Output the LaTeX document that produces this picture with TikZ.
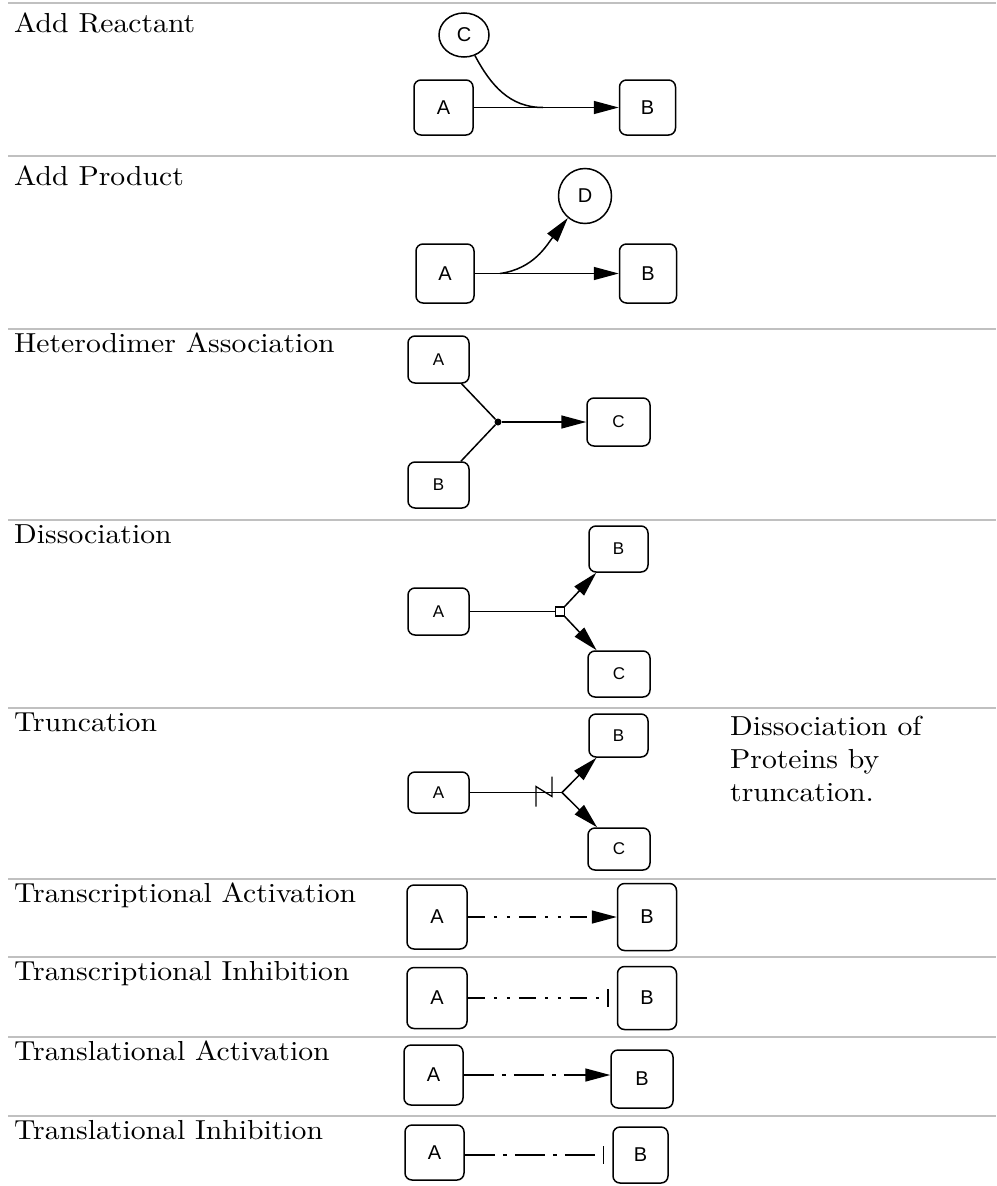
\documentclass[tikz,border=0pt]{standalone}
\usepackage{fontspec}
\usepackage{tikz}
\usetikzlibrary{arrows.meta, positioning, shapes.geometric}
\setmainfont{lmroman10-regular.otf}[FakeStretch=1.08]
\newfontfamily\boxfont{Liberation Sans}
\definecolor{rulegray}{RGB}{192,192,192}

\begin{document}
\begin{tikzpicture}[x=1pt, y=-1pt,
        molbox/.style={draw, rounded corners=7pt, line width=1.5pt, inner sep=0pt,
                       minimum width=59pt, minimum height=55pt,
                       font=\boxfont\fontsize{20}{20}\selectfont},
        smallbox/.style={molbox, font=\boxfont\fontsize{17}{17}\selectfont},
        species/.style={draw, ellipse, line width=1.5pt, inner sep=0pt,
                        minimum width=50pt, minimum height=44pt,
                        font=\boxfont\fontsize{20}{20}\selectfont},
        rowlabel/.style={anchor=base west, inner sep=0pt,
                         font=\fontsize{27.5}{33}\selectfont},
        rule/.style={draw=rulegray, line width=2pt},
        link/.style={line width=1.5pt},
        arrow/.style={link, -{Triangle[length=25pt, width=13pt]}},
        inhibit/.style={link, -{Bar[width=18pt]}, shorten >=8pt},
        transcr/.style={dash pattern=on 17pt off 9pt on 3pt off 10pt on 3pt off 9pt},
        transl/.style={dash pattern=on 30pt off 8pt on 4pt off 8pt}
      ]
        \useasboundingbox (0,0) rectangle (996,1186);

        \foreach \y in {3,156,329,520,708,879,957,1037,1116}
          \draw[rule] (8,\y) -- (996,\y);

        \foreach \y/\t [count=\i] in {32/Add Reactant, 185/Add Product,
            352/Heterodimer Association, 543/Dissociation, 731/Truncation,
            902/Transcriptional Activation, 980/Transcriptional Inhibition,
            1060/Translational Activation, 1139/Translational Inhibition}
          \node[rowlabel] (lab\i) at (14,\y) {\t};

        % add reactant
        \node[molbox] (reA) at (443.5,107.5) {A};
        \node[molbox, minimum width=56pt, right=145pt of reA] (reB) {B};
        \node[species] (reC) at (464,35) {C};
        \coordinate (reJ) at (543,107.5);
        \draw[arrow] (reA) -- (reB);
        \draw[link] (reC) to[out=-62, in=180] (reJ);

        % add product
        \node[molbox, minimum width=58pt, minimum height=59pt] (prA) at (445,273.5) {A};
        \node[molbox, minimum width=57pt, minimum height=59pt, right=144pt of prA] (prB) {B};
        \node[species, minimum width=53pt, minimum height=55pt] (prD) at (585,196) {D};
        \coordinate (prJ) at (500,273.5);
        \draw[arrow] (prA) -- (prB);
        \draw[arrow] (prJ) to[out=8, in=-128] (prD);

        % heterodimer association
        \node[smallbox, minimum width=61pt, minimum height=47pt] (hdA) at (438.5,359.5) {A};
        \node[smallbox, minimum width=61pt, minimum height=46pt] (hdB) at (438.5,485) {B};
        \node[smallbox, minimum width=63pt, minimum height=48pt] (hdC) at (618.5,422) {C};
        \node[circle, fill, inner sep=0pt, minimum size=7pt] (hdJ) at (498,422) {};
        \draw[link] (hdA) -- (hdJ);
        \draw[link] (hdB) -- (hdJ);
        \draw[arrow] (hdJ) -- (hdC);

        % dissociation
        \node[smallbox, minimum width=61pt, minimum height=47pt] (dsA) at (438.5,611.5) {A};
        \node[smallbox, minimum width=59pt, minimum height=46pt] (dsB) at (618.5,549) {B};
        \node[smallbox, minimum width=62pt, minimum height=46pt] (dsC) at (619,674) {C};
        \node[draw, fill=white, line width=1.2pt, inner sep=0pt, minimum size=9pt] (dsJ) at (560,611.5) {};
        \draw[link] (dsA) -- (dsJ);
        \draw[arrow] (dsJ) -- (dsB);
        \draw[arrow] (dsJ) -- (dsC);

        % truncation
        \node[smallbox, minimum width=61pt, minimum height=41pt] (trA) at (438.5,792.5) {A};
        \node[smallbox, minimum width=59pt, minimum height=43pt] (trB) at (618.5,735.5) {B};
        \node[smallbox, minimum width=62pt, minimum height=42pt] (trC) at (619,849) {C};
        \coordinate (trJ) at (562,792.5);
        \draw[link] (trA) -- (trJ);
        \draw[line width=1.3pt] (trJ) ++(-26,14) -- ++(0,-20) -- ++(16,10) -- ++(0,-20);
        \draw[arrow] (trJ) -- (trB);
        \draw[arrow] (trJ) -- (trC);
        \node[rowlabel, align=left] (trNote) at (730,801)
          {Dissociation of\\Proteins by\\truncation.};

        % transcriptional activation / inhibition
        \node[molbox, minimum width=60pt, minimum height=64pt] (taA) at (437,917) {A};
        \node[molbox, minimum height=67pt, right=149pt of taA] (taB) {B};
        \draw[arrow, transcr] (taA) -- (taB);

        \node[molbox, minimum width=60pt, minimum height=61pt] (tiA) at (437,998) {A};
        \node[molbox, minimum height=63pt, right=149pt of tiA] (tiB) {B};
        \draw[inhibit, transcr] (tiA) -- (tiB);

        % translational activation / inhibition
        \node[molbox, minimum height=60pt] (laA) at (433.5,1075) {A};
        \node[molbox, minimum width=62pt, minimum height=58pt] (laB) at (642,1079) {B};
        \draw[arrow, transl] (laA.east) -- (laA.east -| laB.west);

        \node[molbox] (liA) at (434.5,1152.5) {A};
        \node[molbox, minimum width=55pt, minimum height=56pt] (liB) at (640.5,1155) {B};
        \draw[inhibit, transl] (liA.east |- liB) -- (liB.west);
      \end{tikzpicture}
\end{document}
